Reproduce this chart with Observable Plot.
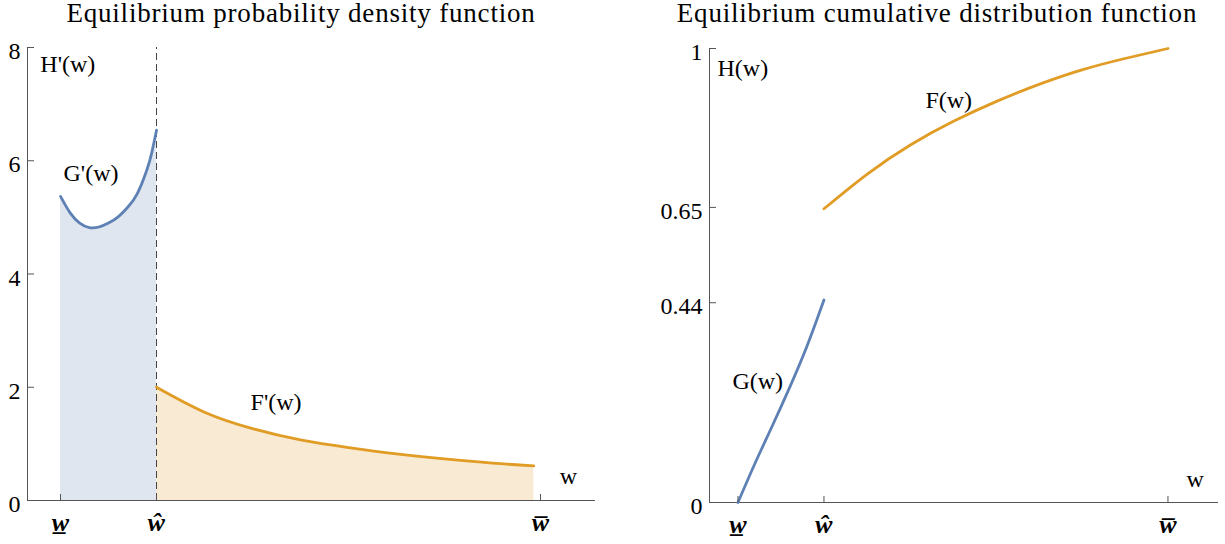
<!DOCTYPE html>
<html><head><meta charset="utf-8">
<script src="https://cdn.jsdelivr.net/npm/d3@7"></script>
<script src="https://cdn.jsdelivr.net/npm/@observablehq/plot@0.6"></script>
<style>
body{margin:0;background:#fff;width:1225px;height:544px;position:relative;overflow:hidden;font-family:"Liberation Serif",serif;}
.panel{position:absolute;top:0;height:544px;}
.title{position:absolute;top:0;white-space:nowrap;font-size:27px;line-height:26px;letter-spacing:0.8px;transform:translateX(-50%);color:#000;}
.panel svg{position:absolute;top:26px;left:0;}
</style></head><body>
<div id="left" class="panel" style="left:0;width:612px"><div class="title" style="left:301px"></div></div>
<div id="right" class="panel" style="left:612px;width:613px"><div class="title" style="left:325px"></div></div>
<script>
// ---- data ----
const titles = ["Equilibrium probability density function", "Equilibrium cumulative distribution function"];
const xTickValues = [1, 2, 6];
const xTickLabels = ["w\u0332", "ŵ", "w\u0305"];
const wHat = 2;
const pdfTicks = [0, 2, 4, 6, 8];
const cdfTicks = [0, 0.44, 0.65, 1];
const cdfTickLabels = ["0", "0.44", "0.65", "1"];

// G'(w) on [w_low, w_hat]
const gPdfW = [1.0, 1.1, 1.2, 1.3, 1.4, 1.5, 1.6, 1.7, 1.8, 1.9, 1.95, 2.0];
const gPdf  = [5.37, 5.08, 4.90, 4.82, 4.83, 4.90, 5.01, 5.18, 5.42, 5.84, 6.14, 6.54];
// F'(w) on [w_hat, w_bar]
const fPdfW = [2.0, 2.5, 3.0, 3.5, 4.0, 4.5, 5.0, 5.5, 5.93];
const fPdf  = [2.0, 1.56, 1.27, 1.07, 0.935, 0.825, 0.735, 0.66, 0.61];
// G(w)
const gCdfW = [1.0, 1.2, 1.4, 1.6, 1.8, 2.0];
const gCdf  = [0.0, 0.087, 0.169, 0.253, 0.343, 0.446];
// F(w)
const fCdfW = [2.0, 2.5, 3.0, 3.5, 4.0, 4.5, 5.0, 5.5, 6.0];
const fCdf  = [0.647, 0.723, 0.787, 0.839, 0.883, 0.921, 0.953, 0.978, 1.0];

const pdfLabelText = ["H'(w)", "G'(w)", "F'(w)", "w"];
const pdfLabelW = [0.79, 1.031, 2.98, 6.2];
const pdfLabelV = [7.56, 5.65, 1.59, 0.30];
const cdfLabelText = ["H(w)", "F(w)", "G(w)", "w"];
const cdfLabelW = [0.762, 3.18, 0.936, 6.215];
const cdfLabelV = [0.9405, 0.868, 0.249, 0.035];

// ---- build ----
const zip = (ws, vs) => ws.map((w, i) => ({w, v: vs[i]}));
const labels = (t, ws, vs) => t.map((text, i) => ({text, w: ws[i], v: vs[i]}));
const blue = "#5e81b5", orange = "#e09c24", axisColor = "#555";
const style = {fontFamily: "Liberation Serif", fontSize: "24px", background: "transparent", overflow: "visible", color: "black"};
const xLabel = d => xTickLabels[xTickValues.indexOf(d)];

function xAxes() {
  return [
    Plot.axisX({ticks: xTickValues, tickSize: -6, text: null, label: null, stroke: axisColor}),
    Plot.axisX({ticks: xTickValues, tickSize: 0, tickPadding: 12, label: null, tickFormat: xLabel, fontWeight: "bold", fontStyle: "italic", fill: "black", fontSize: 26})
  ];
}
function yAxes(ticks, fmt) {
  return [
    Plot.axisY({ticks, tickSize: -7, text: null, label: null, stroke: axisColor}),
    Plot.axisY({ticks, tickSize: 0, tickPadding: 7, dy: 4, label: null, tickFormat: fmt, fill: "black", fontSize: 24})
  ];
}

const gPdfData = zip(gPdfW, gPdf), fPdfData = zip(fPdfW, fPdf);
const leftPlot = Plot.plot({
  width: 612, height: 518, marginLeft: 27, marginRight: 18, marginTop: 21, marginBottom: 44,
  x: {domain: [0.656, 6.5625]}, y: {domain: [0, 8]},
  style,
  marks: [
    Plot.frame({anchor: "left", stroke: axisColor}),
    Plot.frame({anchor: "bottom", stroke: axisColor}),
    Plot.areaY(gPdfData, {x: "w", y: "v", fill: blue, fillOpacity: 0.2, curve: "natural"}),
    Plot.areaY(fPdfData, {x: "w", y: "v", fill: orange, fillOpacity: 0.2, curve: "natural"}),
    Plot.ruleX([wHat], {y1: 0, y2: 8, stroke: "#444", strokeDasharray: "7,4"}),
    Plot.lineY(gPdfData, {x: "w", y: "v", stroke: blue, strokeWidth: 2.8, curve: "natural"}),
    Plot.lineY(fPdfData, {x: "w", y: "v", stroke: orange, strokeWidth: 2.8, curve: "natural"}),
    ...yAxes(pdfTicks, d => String(d)),
    ...xAxes(),
    Plot.text(labels(pdfLabelText, pdfLabelW, pdfLabelV), {x: "w", y: "v", text: "text", textAnchor: "start", lineAnchor: "bottom", fontSize: 24})
  ]
});

const gCdfData = zip(gCdfW, gCdf), fCdfData = zip(fCdfW, fCdf);
const rightPlot = Plot.plot({
  width: 613, height: 518, marginLeft: 97, marginRight: 8, marginTop: 22, marginBottom: 42,
  x: {domain: [0.669, 6.576]}, y: {domain: [0, 1]},
  style,
  marks: [
    Plot.frame({anchor: "left", stroke: axisColor}),
    Plot.frame({anchor: "bottom", stroke: axisColor}),
    Plot.lineY(gCdfData, {x: "w", y: "v", stroke: blue, strokeWidth: 2.8, curve: "natural"}),
    Plot.lineY(fCdfData, {x: "w", y: "v", stroke: orange, strokeWidth: 2.8, curve: "natural"}),
    ...yAxes(cdfTicks, d => cdfTickLabels[cdfTicks.indexOf(d)]),
    ...xAxes(),
    Plot.text(labels(cdfLabelText, cdfLabelW, cdfLabelV), {x: "w", y: "v", text: "text", textAnchor: "start", lineAnchor: "bottom", fontSize: 24})
  ]
});

[[leftPlot, "#left", 0], [rightPlot, "#right", 1]].forEach(([svg, sel, k]) => {
  const panel = document.querySelector(sel);
  panel.querySelector(".title").textContent = titles[k];
  panel.appendChild(svg);
});
</script>
</body></html>
